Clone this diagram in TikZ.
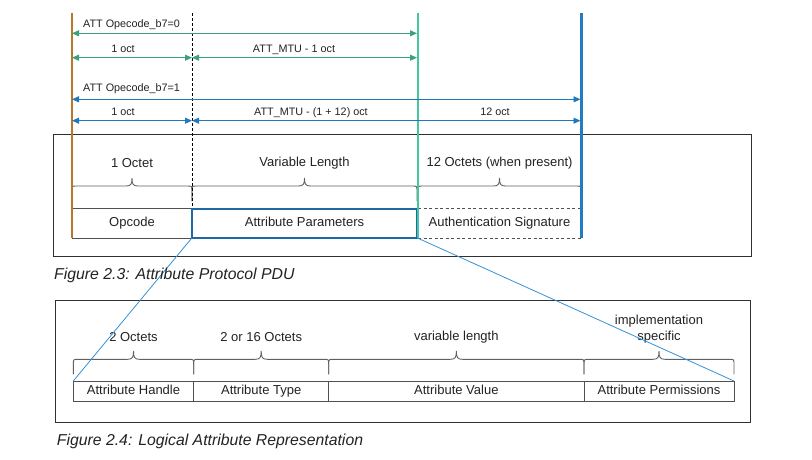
\documentclass[tikz,border=0pt]{standalone}
\usepackage{fontspec}
\setmainfont{Liberation Sans}
\usetikzlibrary{arrows.meta}
\definecolor{orangeline}{HTML}{B8782A}
\definecolor{tealline}{HTML}{42C7A0}
\definecolor{greenarrow}{HTML}{3AA080}
\definecolor{blueline}{HTML}{1E7DC3}
\definecolor{bluearrow}{HTML}{2378B9}
\definecolor{parambox}{HTML}{1E69A5}
\definecolor{zoomblue}{HTML}{3491D7}
\definecolor{fieldgray}{HTML}{505050}
\definecolor{bracegray}{HTML}{606060}
\definecolor{boxgray}{HTML}{303030}
\definecolor{txt}{HTML}{222222}
\newcommand\octbrace[5]{% x1, x2, ybar, ytip, yend
  \draw[bracestyle] (#1,#5) -- (#1,{#3+5}) .. controls (#1,#3) .. ({#1+5},#3)
    -- ({(#1+#2)/2-6},#3) .. controls ({(#1+#2)/2-1},#3) and ({(#1+#2)/2},{#3-2}) .. ({(#1+#2)/2},#4)
    .. controls ({(#1+#2)/2},{#3-2}) and ({(#1+#2)/2+1},#3) .. ({(#1+#2)/2+6},#3)
    -- ({#2-5},#3) .. controls (#2,#3) .. (#2,{#3+5}) -- (#2,#5);}
\begin{document}
\begin{tikzpicture}[x=1pt,y=-1pt,
  bracestyle/.style={draw=bracegray,line width=0.9pt},
  vline/.style={line width=2.6pt},
  garrow/.style={draw=greenarrow,line width=0.9pt,{Triangle[length=7pt,width=6pt]}-{Triangle[length=7pt,width=6pt]},color=greenarrow},
  barrow/.style={draw=bluearrow,line width=0.9pt,{Triangle[length=7pt,width=6pt]}-{Triangle[length=7pt,width=6pt]},color=bluearrow},
  toplabel/.style={inner sep=0pt,text=txt,font=\fontsize{10.8}{12}\selectfont,text height=7.8pt,text depth=2.2pt},
  biglabel/.style={inner sep=0pt,text=txt,font=\fontsize{13}{15.6}\selectfont},
  field/.style={inner sep=0pt,outer sep=0pt,text=txt,font=\fontsize{13}{15.6}\selectfont,text height=9.4pt,text depth=2.6pt},
  lowfield/.style={field,draw=fieldgray,line width=0.9pt,minimum height=20.7pt},
  outerbox/.style={draw=boxgray,line width=1pt,inner sep=0pt,outer sep=0pt},
  caption/.style={inner sep=0pt,anchor=west,text=txt,font=\fontsize{15.8}{18}\selectfont\itshape},
  zoomline/.style={draw=zoomblue,line width=0.8pt}]
\useasboundingbox (0,0) rectangle (812,459);

% outer boxes
\node[outerbox,minimum width=698pt,minimum height=121.7pt] (pdubox) at (402,195.2) {};
\node[outerbox,minimum width=695.3pt,minimum height=121.6pt] (attrbox) at (403.3,361.5) {};

% top fields
\node[field,minimum width=120pt,minimum height=30pt] (opc) at (132,223.3) {Opcode};
\node[field,minimum width=163pt,minimum height=30pt] (auth) at (499.5,223.3) {Authentication Signature};
\draw[fieldgray,line width=0.9pt] (opc.north west) -- (opc.north east);
\draw[fieldgray,line width=0.9pt] (opc.south west) -- (opc.south east);
\draw[fieldgray,line width=0.9pt,dash pattern=on 3pt off 2.5pt] (auth.north west) -- (auth.north east);
\draw[fieldgray,line width=0.9pt,dash pattern=on 3pt off 2.5pt] (auth.south west) -- (auth.south east);

% top braces
\octbrace{72}{192}{186}{178}{201}
\octbrace{192}{417}{186}{178}{201}
\octbrace{418}{581}{186}{178}{201}
\node[biglabel] (l1) at (132,163.3) {1 Octet};
\node[biglabel] (l2) at (304.5,163.3) {Variable Length};
\node[biglabel] (l3) at (499.5,163.3) {12 Octets (when present)};

% vertical lines
\coordinate (oT) at (72,13);   \coordinate (oB) at (72,238.3);
\coordinate (dT) at (192,13);  \coordinate (dB) at (192,238.3);
\coordinate (tT) at (418,13);  \coordinate (tB) at (418,238.3);
\coordinate (bT) at (581.5,13); \coordinate (bB) at (581.5,238.3);
\draw[black,line width=0.8pt,dash pattern=on 3pt off 2pt] (dT) -- (dB);

\node[field,draw=parambox,line width=2.6pt,minimum width=225pt,minimum height=29pt] (param) at (304.5,223.3) {Attribute Parameters};

\draw[vline,orangeline] (oT) -- (oB);
\draw[vline,tealline] (tT) -- (tB);
\draw[vline,blueline] (bT) -- (bB);

% arrows rows
\coordinate (r1a) at (72,33.3);  \coordinate (r1b) at (417,33.3);
\coordinate (r2a) at (72,57.7);  \coordinate (r2b) at (192,57.7); \coordinate (r2c) at (417,57.7);
\coordinate (r3a) at (72,99.3);  \coordinate (r3b) at (580.5,99.3);
\coordinate (r4a) at (72,120.7); \coordinate (r4b) at (192,120.7); \coordinate (r4c) at (580.5,120.7);
\draw[garrow] (r1a) -- (r1b);
\draw[garrow] (r2a) -- (r2b);
\draw[garrow] (r2b) -- (r2c);
\draw[barrow] (r3a) -- (r3b);
\draw[barrow] (r4a) -- (r4b);
\draw[barrow] (r4b) -- (r4c);
\node[toplabel,anchor=west] (t1) at (83,25) {ATT Opecode\_b7=0};
\node[toplabel] (t2) at (123,49.3) {1 oct};
\node[toplabel] (t3) at (294,49.3) {ATT\_MTU - 1 oct};
\node[toplabel,anchor=west] (t4) at (83,88.3) {ATT Opecode\_b7=1};
\node[toplabel] (t5) at (123,112.7) {1 oct};
\node[toplabel] (t6) at (311,112.7) {ATT\_MTU - (1 + 12) oct};
\node[toplabel] (t7) at (495,112.7) {12 oct};

% lower fields
\node[lowfield,minimum width=120.4pt] (handle) at (133.5,391.35) {Attribute Handle};
\node[lowfield,minimum width=135pt] (atype) at (261.2,391.35) {Attribute Type};
\node[lowfield,minimum width=255.3pt] (avalue) at (456.35,391.35) {Attribute Value};
\node[lowfield,minimum width=150pt] (aperm) at (659,391.35) {Attribute Permissions};

% lower braces
\octbrace{73.3}{193.7}{359.3}{351}{374.3}
\octbrace{193.7}{328.7}{359.3}{351}{374.3}
\octbrace{328.7}{584}{359.3}{351}{374.3}
\octbrace{584}{734}{359.3}{351}{374.3}
\node[biglabel] (b1) at (133.5,336.7) {2 Octets};
\node[biglabel] (b2) at (261.2,336.7) {2 or 16 Octets};
\node[biglabel] (b3) at (456.3,336.7) {variable length};
\node[biglabel,align=center] (b4) at (659,329) {implementation\\specific};

% zoom lines
\draw[zoomline] (param.south west) -- (handle.north west);
\draw[zoomline] (param.south east) -- (aperm.north east);

% captions
\node[caption] (cap1) at (54,275.7) {Figure 2.3: Attribute Protocol PDU};
\node[caption] (cap2) at (56.7,441.7) {Figure 2.4: Logical Attribute Representation};
\end{tikzpicture}
\end{document}
